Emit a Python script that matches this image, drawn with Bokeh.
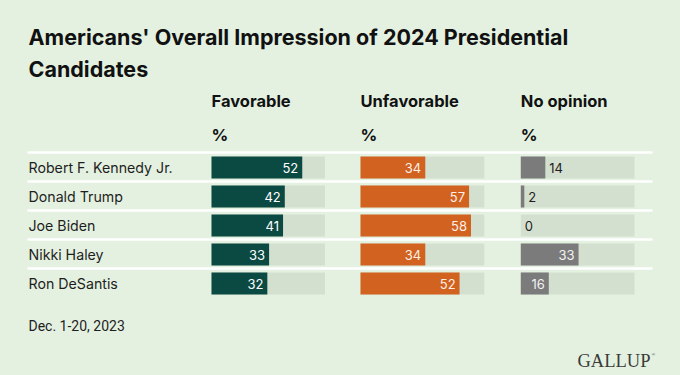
from bokeh.plotting import figure
from bokeh.models import Range1d
from bokeh.embed import file_html
from bokeh.resources import INLINE
from bokeh.core.properties import value

# ---- data ----
candidates = ["Robert F. Kennedy Jr.", "Donald Trump", "Joe Biden", "Nikki Haley", "Ron DeSantis"]
favorable = [52, 42, 41, 33, 32]
unfavorable = [34, 57, 58, 34, 52]
no_opinion = [14, 2, 0, 33, 16]
column_labels = ["Favorable", "Unfavorable", "No opinion"]
unit_label = "%"
title_lines = ["Americans' Overall Impression of 2024 Presidential", "Candidates"]
note = "Dec. 1-20, 2023"
brand = "GALLUP"
track_max = 65

# ---- style ----
BG = "#e4f1e1"
TRACK = "#d3dfcf"
COLORS = ["#0b4a42", "#d1621f", "#7b7b7b"]
INSIDE_TEXT = ["#ffffff", "#fdf0e6", "#f2f2f2"]
DARK = "#1e1e1e"

W, H = 680, 375
p = figure(width=W, height=H, x_range=Range1d(0, W), y_range=Range1d(H, 0),
           output_backend="svg", toolbar_location=None, min_border=0,
           x_axis_type=None, y_axis_type=None,
           background_fill_color=BG, border_fill_color=BG, outline_line_color=None)
p.grid.visible = False

# column geometry (px): start, px per percent
col_start = [211, 360, 520.3]
col_scale = [1.745, 1.905, 1.75]
names = ["fav", "unfav", "noop"]
for n, s, k in zip(names, col_start, col_scale):
    p.extra_x_ranges[n] = Range1d(-s / k, (W - s) / k)

row_y = [167 + 29 * i for i in range(len(candidates))]

# separators
p.segment(x0=[27] * len(row_y), x1=[652] * len(row_y),
          y0=[y - 15 for y in row_y], y1=[y - 15 for y in row_y],
          line_color="white", line_width=2.5)

# candidate labels
p.text(x=[28] * len(candidates), y=row_y, text=candidates,
       text_font=value("Inter"), text_font_size="14.2px", text_color=DARK,
       text_align="left", text_baseline="middle")

series = [favorable, unfavorable, no_opinion]
for ci, (n, vals) in enumerate(zip(names, series)):
    p.hbar(y=row_y, height=22, left=0, right=[track_max] * len(vals),
           x_range_name=n, fill_color=TRACK, line_color=None)
    p.hbar(y=row_y, height=22, left=0, right=vals,
           x_range_name=n, fill_color=COLORS[ci], line_color=None)
    ins = [i for i, v in enumerate(vals) if v >= 15]
    out = [i for i, v in enumerate(vals) if v < 15]
    if ins:
        p.text(x=[vals[i] for i in ins], y=[row_y[i] for i in ins],
               text=[str(vals[i]) for i in ins], x_range_name=n, x_offset=-4,
               text_font=value("Inter"), text_font_size="13px",
               text_color=INSIDE_TEXT[ci], text_align="right", text_baseline="middle")
    if out:
        p.text(x=[vals[i] for i in out], y=[row_y[i] for i in out],
               text=[str(vals[i]) for i in out], x_range_name=n, x_offset=4,
               text_font=value("Inter"), text_font_size="13px",
               text_color=DARK, text_align="left", text_baseline="middle")
    # headers
    p.text(x=[0, 0], y=[100, 134], text=[column_labels[ci], unit_label], x_range_name=n,
           text_font=value("Inter"), text_font_style="bold", text_font_size="16.5px",
           text_color="#111111", text_align="left", text_baseline="middle")

# title
p.text(x=[28, 28], y=[36, 68], text=title_lines,
       text_font=value("Inter"), text_font_style="bold", text_font_size="21.5px",
       text_color="#111111", text_align="left", text_baseline="middle")

# note
p.text(x=[28], y=[325], text=[note], text_font=value("Roboto"), text_font_size="14px",
       text_color=DARK, text_align="left", text_baseline="middle")

# brand
p.text(x=[577], y=[360], text=[brand], text_font=value("Liberation Serif"),
       text_font_size="18.5px", text_color="#3a3a3a", text_align="left",
       text_baseline="middle")
p.text(x=[651], y=[354], text=["®"], text_font=value("Liberation Serif"),
       text_font_size="5px", text_color="#3a3a3a", text_align="left",
       text_baseline="middle")

html = file_html(p, INLINE)
html = html.replace("</head>", "<style>body{background:%s;}</style></head>" % BG, 1)
open("out.html", "w").write(html)
